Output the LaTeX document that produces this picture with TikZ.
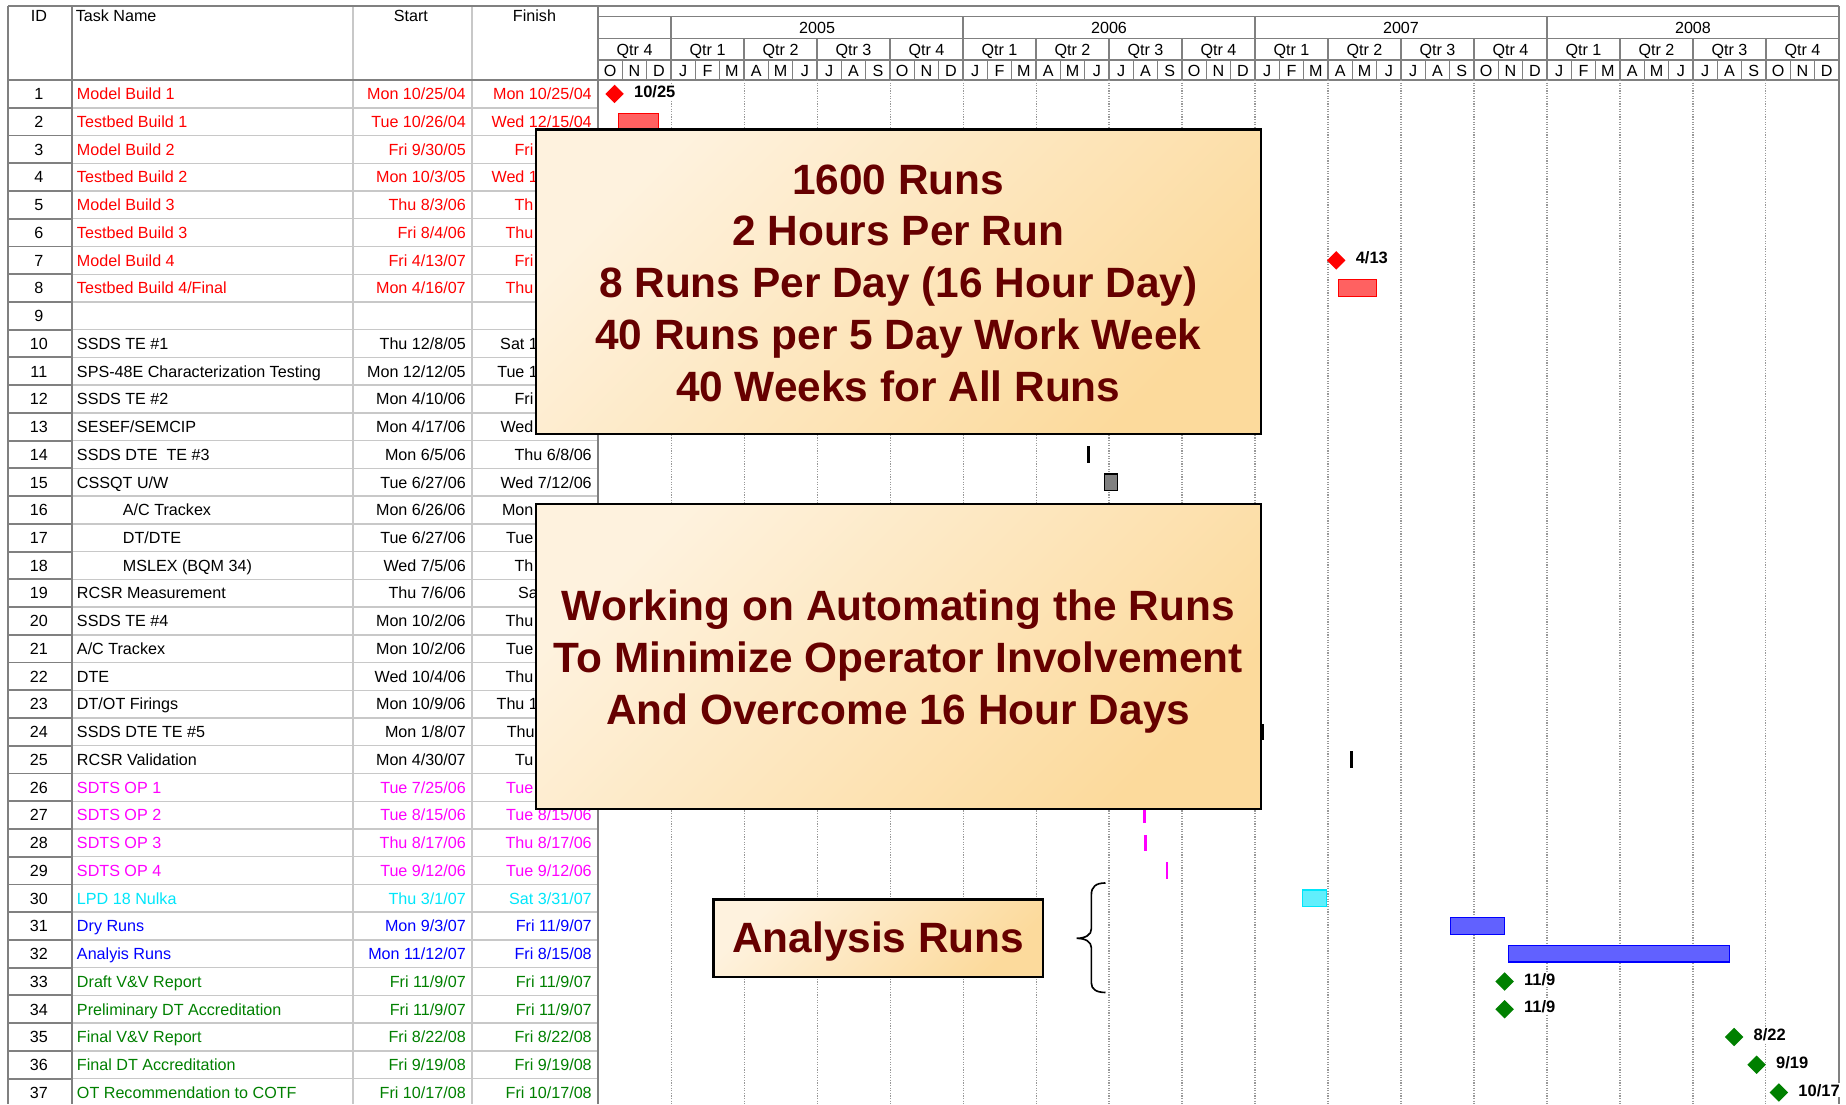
\documentclass[tikz,border=0pt]{standalone}
\usepackage{fontspec}
\setmainfont{Liberation Sans}
\usetikzlibrary{shapes.geometric}

\definecolor{framegray}{RGB}{128,128,128}
\definecolor{gridgray}{RGB}{200,200,200}
\definecolor{calloutA}{RGB}{254,242,222}
\definecolor{calloutB}{RGB}{252,218,156}
\definecolor{calloutText}{RGB}{102,0,0}
\definecolor{taskRed}{RGB}{255,0,0}
\definecolor{taskMagenta}{RGB}{255,0,255}
\definecolor{taskCyan}{RGB}{0,230,250}
\definecolor{taskBlue}{RGB}{0,0,255}
\definecolor{taskGreen}{RGB}{0,128,0}

% one table row: id, colour, indent, name, start, visible finish, hidden tail of finish
\newcommand\taskrow[7]{%
  \pgfmathsetmacro\ry{68+(#1-0.5)*23.56}%
  \node[cell] (id#1) at (33,\ry) {#1};
  \node[cell,anchor=west,text=#2] (name#1) at (65+#3,\ry) {#4};
  \node[cell,anchor=east,text=#2] (start#1) at (396,\ry) {#5};
  \node[cell,anchor=east,text=#2] (finish#1) at (503,\ry) {#6\phantom{#7}};
}
% one bar of the chart: row, x from, x to, style
\newcommand\ganttbar[4]{%
  \pgfmathsetmacro\ry{68+(#1-0.5)*23.56}%
  \path[#4] (#2,\ry-7) rectangle (#3,\ry+7);
}
% one milestone: row, x, label left edge, colour, label
\newcommand\milestone[5]{%
  \pgfmathsetmacro\ry{68+(#1-0.5)*23.56}%
  \node[mstone=#4] (ms#1) at (#2,\ry) {};
  \node[mlabel] (msl#1) at (#3,\ry-2) {#5};
}

\begin{document}
\begin{tikzpicture}[x=0.5pt,y=-0.5pt,
  cell/.style={inner sep=0pt, text height=4.9pt, text depth=0pt, font=\fontsize{6.85}{8}\selectfont},
  frameline/.style={draw=framegray, line width=0.8pt},
  gridline/.style={draw=gridgray, line width=0.6pt},
  hdrline/.style={draw=framegray, line width=0.5pt},
  quarterline/.style={draw=gray!80, line width=0.45pt, dash pattern=on 0.5pt off 0.6pt},
  taskbar/.style={draw=#1, line width=0.5pt, fill=#1!62!white},
  tick/.style={fill=#1},
  mstone/.style={shape=diamond, fill=#1, inner sep=0pt, minimum width=8pt, minimum height=8pt},
  mlabel/.style={inner sep=0.6pt, fill=white, anchor=west, text height=5pt, text depth=0pt, font=\fontsize{7}{8}\selectfont\bfseries},
  callout/.style={draw=black, line width=0.9pt, top color=calloutA, bottom color=calloutB, shading angle=45},
  callouttext/.style={text=calloutText, font=\fontsize{18}{22}\selectfont\bfseries, align=center, inner sep=0pt}]

\useasboundingbox (0,0) rectangle (1568,938);
\fill[white] (0,0) rectangle (1568,938);

% ---------- table grid ----------
\foreach \k in {1,...,36} {
  \draw[gridline] (61,{68+\k*23.56}) -- (508,{68+\k*23.56});
  \draw[frameline] (7,{68+\k*23.56}) -- (61,{68+\k*23.56});
}
\draw[gridline] (300,5) -- (300,938);
\draw[gridline] (401,5) -- (401,938);
\draw[frameline] (7,5) -- (1562,5);
\draw[frameline] (7,68) -- (1562,68);
\draw[frameline] (7,5) -- (7,938);
\draw[frameline] (61,5) -- (61,938);
\draw[frameline] (508,5) -- (508,938);
\draw[frameline] (1562,5) -- (1562,938);

% column headings
\node[cell] (hid) at (33,13) {ID};
\node[cell,anchor=west] (hname) at (64,13) {Task Name};
\node[cell] (hstart) at (349,13) {Start};
\node[cell] (hfinish) at (454,13) {Finish};

% ---------- timescale ----------
\draw[hdrline] (508,14) -- (1562,14);
\draw[hdrline] (508,33) -- (1562,33);
\draw[hdrline] (508,51) -- (1562,51);
\foreach \x in {570,818,1066,1314} \draw[hdrline] (\x,14) -- (\x,33);
\foreach \q in {1,...,16} \draw[hdrline] ({508+62*\q},33) -- ({508+62*\q},51);
\foreach \m in {1,...,50} \draw[hdrline] ({508+20.667*\m},51) -- ({508+20.667*\m},68);

\node[cell] (y2005) at (694,23.5) {2005};
\node[cell] (y2006) at (942,23.5) {2006};
\node[cell] (y2007) at (1190,23.5) {2007};
\node[cell] (y2008) at (1438,23.5) {2008};

\node[cell] (qtr0) at (539,42) {Qtr 4};
\foreach \q in {0,...,15} {
  \pgfmathtruncatemacro\qn{mod(\q,4)+1}
  \node[cell] (qtr\q x) at ({570+62*\q+31},42) {Qtr \qn};
}
\foreach \L [count=\m from 0] in {O,N,D,J,F,M,A,M,J,J,A,S,O,N,D,J,F,M,A,M,J,J,A,S,O,N,D,J,F,M,A,M,J,J,A,S,O,N,D,J,F,M,A,M,J,J,A,S,O,N,D}
  \node[cell] (mon\m) at ({508+20.667*(\m+0.5)},60) {\L};

% quarter gridlines of the chart body
\foreach \q in {1,...,16} \draw[quarterline] ({508+62*\q},68) -- ({508+62*\q},938);

% ---------- bars ----------
\ganttbar{2}{525}{559}{taskbar=taskRed}
\ganttbar{8}{1137}{1169}{taskbar=taskRed}
\ganttbar{14}{923.5}{926}{tick=black}
\ganttbar{15}{938}{949}{draw=black, line width=0.5pt, fill=gray}
\ganttbar{24}{1068}{1074}{tick=black}
\ganttbar{25}{1147}{1149.3}{tick=black}
\ganttbar{27}{971}{973}{tick=taskMagenta}
\ganttbar{28}{972}{974}{tick=taskMagenta}
\ganttbar{29}{990}{992}{tick=taskMagenta}
\ganttbar{30}{1106}{1127}{taskbar=taskCyan}
\ganttbar{31}{1232}{1278}{taskbar=taskBlue}
\ganttbar{32}{1281}{1469}{taskbar=taskBlue}

% ---------- milestones ----------
\milestone{1}{522}{537}{taskRed}{10/25}
\milestone{7}{1135}{1150}{taskRed}{4/13}
\milestone{33}{1278}{1293}{taskGreen}{11/9}
\milestone{34}{1278}{1293}{taskGreen}{11/9}
\milestone{35}{1473}{1488}{taskGreen}{8/22}
\milestone{36}{1492}{1507}{taskGreen}{9/19}
\milestone{37}{1511}{1526}{taskGreen}{10/17}

% ---------- task table ----------
\taskrow{1}{taskRed}{0}{Model Build 1}{Mon 10/25/04}{Mon 10/25/04}{}
\taskrow{2}{taskRed}{0}{Testbed Build 1}{Tue 10/26/04}{Wed 12/15/04}{}
\taskrow{3}{taskRed}{0}{Model Build 2}{Fri 9/30/05}{Fri}{ 9/30/05}
\taskrow{4}{taskRed}{0}{Testbed Build 2}{Mon 10/3/05}{Wed 1}{1/30/05}
\taskrow{5}{taskRed}{0}{Model Build 3}{Thu 8/3/06}{Th}{u 8/3/06}
\taskrow{6}{taskRed}{0}{Testbed Build 3}{Fri 8/4/06}{Thu}{ 9/28/06}
\taskrow{7}{taskRed}{0}{Model Build 4}{Fri 4/13/07}{Fri}{ 4/13/07}
\taskrow{8}{taskRed}{0}{Testbed Build 4/Final}{Mon 4/16/07}{Thu}{ 5/31/07}
\taskrow{9}{black}{0}{}{}{}{}
\taskrow{10}{black}{0}{SSDS TE \#1}{Thu 12/8/05}{Sat 1}{2/10/05}
\taskrow{11}{black}{0}{SPS-48E Characterization Testing}{Mon 12/12/05}{Tue 1}{2/13/05}
\taskrow{12}{black}{0}{SSDS TE \#2}{Mon 4/10/06}{Fri}{ 4/14/06}
\taskrow{13}{black}{0}{SESEF/SEMCIP}{Mon 4/17/06}{Wed}{ 4/19/06}
\taskrow{14}{black}{0}{SSDS DTE\hspace{0.55em}TE \#3}{Mon 6/5/06}{Thu 6/8/06}{}
\taskrow{15}{black}{0}{CSSQT U/W}{Tue 6/27/06}{Wed 7/12/06}{}
\taskrow{16}{black}{39}{A/C Trackex}{Mon 6/26/06}{Mon}{ 6/26/06}
\taskrow{17}{black}{39}{DT/DTE}{Tue 6/27/06}{Tue}{ 6/27/06}
\taskrow{18}{black}{39}{MSLEX (BQM 34)}{Wed 7/5/06}{Th}{u 7/6/06}
\taskrow{19}{black}{0}{RCSR Measurement}{Thu 7/6/06}{Sa}{t 7/8/06}
\taskrow{20}{black}{0}{SSDS TE \#4}{Mon 10/2/06}{Thu}{ 10/5/06}
\taskrow{21}{black}{0}{A/C Trackex}{Mon 10/2/06}{Tue}{ 10/3/06}
\taskrow{22}{black}{0}{DTE}{Wed 10/4/06}{Thu}{ 10/5/06}
\taskrow{23}{black}{0}{DT/OT Firings}{Mon 10/9/06}{Thu 1}{0/12/06}
\taskrow{24}{black}{0}{SSDS DTE TE \#5}{Mon 1/8/07}{Thu}{ 1/11/07}
\taskrow{25}{black}{0}{RCSR Validation}{Mon 4/30/07}{Tu}{e 5/1/07}
\taskrow{26}{taskMagenta}{0}{SDTS OP 1}{Tue 7/25/06}{Tue}{ 7/25/06}
\taskrow{27}{taskMagenta}{0}{SDTS OP 2}{Tue 8/15/06}{Tue 8/15/06}{}
\taskrow{28}{taskMagenta}{0}{SDTS OP 3}{Thu 8/17/06}{Thu 8/17/06}{}
\taskrow{29}{taskMagenta}{0}{SDTS OP 4}{Tue 9/12/06}{Tue 9/12/06}{}
\taskrow{30}{taskCyan}{0}{LPD 18 Nulka}{Thu 3/1/07}{Sat 3/31/07}{}
\taskrow{31}{taskBlue}{0}{Dry Runs}{Mon 9/3/07}{Fri 11/9/07}{}
\taskrow{32}{taskBlue}{0}{Analyis Runs}{Mon 11/12/07}{Fri 8/15/08}{}
\taskrow{33}{taskGreen}{0}{Draft V\&V Report}{Fri 11/9/07}{Fri 11/9/07}{}
\taskrow{34}{taskGreen}{0}{Preliminary DT Accreditation}{Fri 11/9/07}{Fri 11/9/07}{}
\taskrow{35}{taskGreen}{0}{Final V\&V Report}{Fri 8/22/08}{Fri 8/22/08}{}
\taskrow{36}{taskGreen}{0}{Final DT Accreditation}{Fri 9/19/08}{Fri 9/19/08}{}
\taskrow{37}{taskGreen}{0}{OT Recommendation to COTF}{Fri 10/17/08}{Fri 10/17/08}{}

% ---------- callouts ----------
\path[callout] (455,110) rectangle (1071,369);
\node[callouttext] (runsnote) at (763,240.5) {1600 Runs\\2 Hours Per Run\\8 Runs Per Day (16 Hour Day)\\40 Runs per 5 Day Work Week\\40 Weeks for All Runs};

\path[callout] (455,428) rectangle (1071,687);
\node[callouttext] (autonote) at (763,562) {Working on Automating the Runs\\To Minimize Operator Involvement\\And Overcome 16 Hour Days};

\path[callout] (606,764) rectangle (886,830);
\node[callouttext] (analysisnote) at (746,799.5) {Analysis Runs};

% brace grouping the analysis rows
\coordinate (bracetop) at (939,750);
\coordinate (bracebot) at (939,843);
\draw[line width=0.7pt] (bracetop) .. controls (931,750) and (927,753) .. (927,760) -- (927,789)
  .. controls (927,794) and (922,797) .. (914.5,797)
  .. controls (922,797) and (927,800) .. (927,805) -- (927,835)
  .. controls (927,840) and (931,843) .. (bracebot);
\end{tikzpicture}
\end{document}
